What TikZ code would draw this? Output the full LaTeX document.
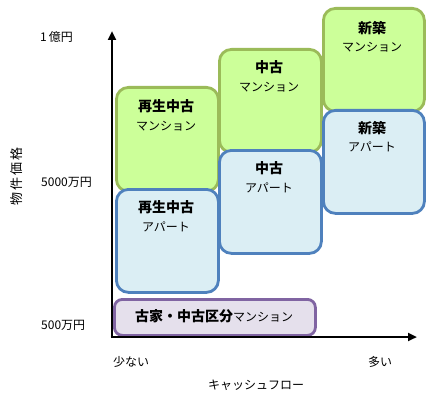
\documentclass[tikz,border=0pt]{standalone}
\usepackage{fontspec}
\setmainfont{Noto Sans CJK JP}
\usetikzlibrary{arrows.meta}
\definecolor{gfill}{HTML}{CCFF99}
\definecolor{gline}{HTML}{9BBB59}
\definecolor{bfill}{HTML}{DBEEF4}
\definecolor{bline}{HTML}{4F81BD}
\definecolor{pfill}{HTML}{E5E0EC}
\definecolor{pline}{HTML}{8064A2}
\tikzset{
  box/.style={rounded corners=12pt, line width=2.8pt, anchor=north west, inner sep=0pt},
  gbox/.style={box, draw=gline, fill=gfill},
  bbox/.style={box, draw=bline, fill=bfill},
  pbox/.style={box, draw=pline, fill=pfill, rounded corners=8pt},
  ttl/.style={font=\fontsize{14}{16}\selectfont\bfseries, inner sep=0pt},
  sub/.style={font=\fontsize{12}{14}\selectfont, inner sep=0pt},
  axlbl/.style={font=\fontsize{12}{14}\selectfont, inner sep=0pt},
  axis/.style={line width=2.6pt, -{Triangle[length=9pt,width=8pt]}}
}
\begin{document}
\begin{tikzpicture}[x=1pt,y=-1pt]
\useasboundingbox (0,0) rectangle (445,404);
% green boxes
\node[gbox, minimum width=102pt, minimum height=104pt] (gA) at (115,86) {};
\node[gbox, minimum width=102pt, minimum height=103pt] (gB) at (218,48) {};
\node[gbox, minimum width=101pt, minimum height=103pt] (gC) at (322,7) {};
% blue boxes
\node[bbox, minimum width=102pt, minimum height=103pt] (bA) at (115,188) {};
\node[bbox, minimum width=102pt, minimum height=103pt] (bB) at (218,149) {};
\node[bbox, minimum width=101pt, minimum height=103pt] (bC) at (322,109) {};
% purple
\node[pbox, minimum width=201pt, minimum height=36pt] (pA) at (113,298) {};
% texts
\node[ttl] (tA1) at (166,106) {再生中古};
\node[sub] (tA2) at (166,126) {マンション};
\node[ttl] (tB1) at (269,67) {中古};
\node[sub] (tB2) at (269,87) {マンション};
\node[ttl] (tC1) at (372,28) {新築};
\node[sub] (tC2) at (372,47) {マンション};
\node[ttl] (uA1) at (166,207) {再生中古};
\node[sub] (uA2) at (166,227) {アパート};
\node[ttl] (uB1) at (269,168) {中古};
\node[sub] (uB2) at (269,188) {アパート};
\node[ttl] (uC1) at (372,128) {新築};
\node[sub] (uC2) at (372,147) {アパート};
\node[inner sep=0pt] (pT) at (214,316) {\fontsize{14}{16}\selectfont\bfseries 古家・中古区分\fontsize{12}{14}\selectfont\mdseries マンション};
% axes
\coordinate (O) at (112,338);
\coordinate (Ytop) at (112,31);
\coordinate (Xend) at (417,337);
\draw[axis] (O) -- (Ytop);
\draw[axis] ([xshift=-1.3pt,yshift=1pt]O) -- (Xend);
% axis labels
\node[axlbl, anchor=west] (y1) at (40,37) {1\,億円};
\node[axlbl, anchor=west] (y2) at (41,182) {5000万円};
\node[axlbl, anchor=west] (y3) at (41,325) {500万円};
\node[font=\fontsize{13}{15}\selectfont, inner sep=0pt, rotate=90] (yl) at (16.5,176.5) {物\,件\,価\,格};
\node[axlbl, anchor=west] (x1) at (113,362) {少ない};
\node[axlbl, anchor=west] (x2) at (368,362) {多い};
\node[axlbl] (xl) at (256,385) {キャッシュフロー};
\end{tikzpicture}
\end{document}
